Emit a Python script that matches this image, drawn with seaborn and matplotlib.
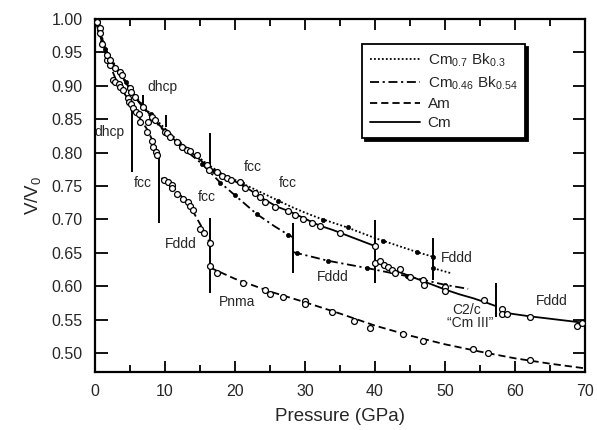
import matplotlib
matplotlib.use('Agg')
import matplotlib.pyplot as plt
import seaborn as sns
import pandas as pd
from matplotlib.lines import Line2D
from matplotlib.ticker import MultipleLocator

# ---------------- data ----------------
# Am : open circles + dashed curve
am_dhcp_p = [0.3, 0.7, 1.0, 1.7, 2.1, 2.6, 2.9, 3.4, 3.6, 4.0, 4.7, 4.9, 5.2]
am_dhcp_v = [0.995, 0.987, 0.962, 0.939, 0.931, 0.909, 0.905, 0.903, 0.898, 0.893, 0.881, 0.876, 0.872]
am_fcc_p = [5.5, 5.9, 6.3, 6.4, 7.6, 7.5, 8.1, 8.3, 8.7, 8.8]
am_fcc_v = [0.866, 0.861, 0.857, 0.845, 0.846, 0.831, 0.818, 0.809, 0.801, 0.796]
am_fddd_p = [9.8, 10.4, 11.0, 11.0, 11.7, 12.6, 13.3, 13.6, 14.0, 15.0, 15.6, 16.4]
am_fddd_v = [0.759, 0.756, 0.752, 0.747, 0.738, 0.731, 0.726, 0.720, 0.714, 0.686, 0.680, 0.665]
am_pnma_p = [16.4, 17.4, 21.1, 24.3, 25.0, 26.9, 30.0, 30.0, 33.9, 37.0, 39.3, 44.0, 46.9, 54.0, 56.2, 62.1]
am_pnma_v = [0.630, 0.620, 0.605, 0.595, 0.588, 0.584, 0.578, 0.574, 0.562, 0.548, 0.537, 0.528, 0.518, 0.506, 0.500, 0.489]

am_line_dhcp_p = [0, 1, 2, 3, 4, 5.3]
am_line_dhcp_v = [1.0, 0.962, 0.935, 0.909, 0.892, 0.870]
am_line_fcc_p = [5.3, 6.5, 7.5, 8.5, 9.1]
am_line_fcc_v = [0.868, 0.850, 0.834, 0.812, 0.795]
am_line_fddd_p = [9.5, 11.0, 12.5, 14.0, 15.5, 16.4]
am_line_fddd_v = [0.762, 0.749, 0.733, 0.712, 0.684, 0.665]
am_line_pnma_p = [16.4, 20, 25, 30, 35, 40, 45, 50, 55, 60, 65, 70]
am_line_pnma_v = [0.628, 0.611, 0.592, 0.576, 0.559, 0.541, 0.526, 0.513, 0.502, 0.492, 0.484, 0.477]

# Cm : open circles + solid curve
cm_a_p = [0.3, 0.7, 1.7, 2.1, 2.9, 3.6, 3.8, 5.0, 5.2, 5.7, 6.9, 8.1, 8.6, 10.0, 10.3, 10.7,
          11.7, 12.4, 13.1, 13.6, 14.6, 16.0, 16.3, 17.4, 18.1, 18.9, 19.5, 20.7, 21.4, 22.9,
          23.6, 24.3, 25.7, 27.6, 28.6, 29.7, 31.0, 32.1, 35.0, 40.0]
cm_a_v = [0.996, 0.979, 0.946, 0.939, 0.927, 0.921, 0.916, 0.897, 0.891, 0.883, 0.868, 0.853,
          0.849, 0.831, 0.829, 0.823, 0.816, 0.809, 0.804, 0.802, 0.796, 0.781, 0.774, 0.771,
          0.765, 0.762, 0.759, 0.756, 0.747, 0.740, 0.734, 0.726, 0.719, 0.712, 0.707, 0.700,
          0.695, 0.690, 0.680, 0.660]
cm_b_p = [40.0, 40.7, 41.3, 41.9, 42.4, 42.9, 43.6, 45.0, 46.9, 47.0, 50.0, 50.0, 55.6]
cm_b_v = [0.635, 0.637, 0.631, 0.629, 0.624, 0.620, 0.626, 0.614, 0.609, 0.602, 0.599, 0.593, 0.579]
cm_c_p = [58.1, 58.1, 58.9, 62.1, 68.9, 69.6]
cm_c_v = [0.566, 0.558, 0.558, 0.554, 0.540, 0.545]

cm_line_a_p = [0, 1, 2, 3, 4, 6, 8, 10, 12, 14, 16.4, 18, 20, 22, 24, 26, 28, 30, 32, 34, 36, 38, 40]
cm_line_a_v = [1.0, 0.966, 0.943, 0.926, 0.912, 0.880, 0.855, 0.832, 0.813, 0.798, 0.777, 0.766,
               0.757, 0.745, 0.731, 0.719, 0.711, 0.701, 0.691, 0.684, 0.676, 0.668, 0.660]
cm_line_b_p = [40, 42, 44, 46, 48, 50, 52, 54, 56, 57.3]
cm_line_b_v = [0.637, 0.627, 0.619, 0.611, 0.603, 0.595, 0.588, 0.582, 0.575, 0.570]
cm_line_c_p = [58, 62, 66, 70]
cm_line_c_v = [0.561, 0.555, 0.550, 0.545]

# Cm0.7Bk0.3 : filled dots + dotted curve
cb7_dot_p = [1.5, 4.5, 8, 12, 17, 21.0, 26.1, 32.6, 36.1, 41.1, 46.0, 48.3, 48.3]
cb7_dot_v = [0.955, 0.906, 0.857, 0.815, 0.773, 0.755, 0.728, 0.699, 0.689, 0.668, 0.651, 0.644, 0.627]
cb7_line_a_p = [0, 2, 4, 6, 8, 10, 12, 14, 16, 18, 20, 22, 24, 26, 28, 30, 32, 34, 36, 38, 40, 42, 44, 46, 48.3]
cb7_line_a_v = [1.0, 0.945, 0.913, 0.881, 0.857, 0.836, 0.816, 0.800, 0.783, 0.769, 0.759, 0.749,
                0.739, 0.729, 0.719, 0.710, 0.702, 0.695, 0.688, 0.680, 0.672, 0.665, 0.658, 0.651, 0.644]
cb7_line_b_p = [48.3, 51.0]
cb7_line_b_v = [0.627, 0.619]

# Cm0.46Bk0.54 : filled dots + dash-dot curve
cb46_dot_p = [12.4, 15.3, 17.9, 20.0, 23.1, 27.6, 28.9, 33.3, 38.9, 44.6, 50.0]
cb46_dot_v = [0.808, 0.783, 0.755, 0.736, 0.708, 0.677, 0.650, 0.638, 0.627, 0.615, 0.602]
cb46_line_a_p = [0, 2, 4, 6, 8, 10, 12.4, 15.3, 17.9, 20, 23.1, 25.6, 27.6, 28.3]
cb46_line_a_v = [1.0, 0.943, 0.911, 0.879, 0.853, 0.831, 0.808, 0.783, 0.755, 0.736, 0.708, 0.690, 0.677, 0.673]
cb46_line_b_p = [28.3, 33.3, 38.9, 44.6, 50.0, 53.3]
cb46_line_b_v = [0.651, 0.638, 0.627, 0.615, 0.602, 0.596]

# phase-transition markers (pressure, lower V, upper V)
trans_p = [5.3, 9.1, 6.9, 10.2, 16.4, 16.4, 28.3, 40.0, 48.3, 57.3]
trans_lo = [0.771, 0.695, 0.871, 0.838, 0.771, 0.590, 0.620, 0.605, 0.609, 0.554]
trans_hi = [0.867, 0.801, 0.886, 0.856, 0.829, 0.702, 0.695, 0.699, 0.672, 0.605]

# phase labels
lab_text = ['dhcp', 'dhcp', 'fcc', 'fcc', 'fcc', 'fcc', 'Fddd', 'Fddd', 'Pnma', 'Fddd',
            'Fddd', 'C2/c', '\u201cCm III\u201d']
lab_p = [2.1, 9.7, 6.9, 22.6, 27.6, 16.0, 12.3, 33.9, 20.3, 51.7, 65.3, 53.1, 53.6]
lab_v = [0.831, 0.898, 0.754, 0.778, 0.754, 0.734, 0.663, 0.614, 0.576, 0.642, 0.578, 0.564, 0.545]

legend_labels = [r'Cm$_{0.7}$ Bk$_{0.3}$', r'Cm$_{0.46}$ Bk$_{0.54}$', 'Am', 'Cm']

# ---------------- styling ----------------
sns.set_style('ticks')
plt.rcParams['font.family'] = ['Liberation Sans', 'DejaVu Sans']
plt.rcParams['mathtext.fontset'] = 'custom'
plt.rcParams['mathtext.rm'] = 'Liberation Sans'
plt.rcParams['mathtext.it'] = 'Liberation Sans'
plt.rcParams['mathtext.bf'] = 'Liberation Sans:bold'

fig = plt.figure(figsize=(5.97, 4.30), dpi=100)
ax = fig.add_axes([0.159, 0.1356, 0.821, 0.8204])

LW = 1.3
DOT = (0, (1, 1.2))
DASH = (0, (4, 2.2))
DASHDOT = (0, (5, 2, 1.2, 2))


def line(p, v, ls):
    sns.lineplot(x=p, y=v, ax=ax, color='black', linewidth=LW, linestyle=ls,
                 estimator=None, sort=False, legend=False, zorder=2)


line(am_line_dhcp_p, am_line_dhcp_v, DASH)
line(am_line_fcc_p, am_line_fcc_v, DASH)
line(am_line_fddd_p, am_line_fddd_v, DASH)
line(am_line_pnma_p, am_line_pnma_v, DASH)
line(cm_line_a_p, cm_line_a_v, '-')
line(cm_line_b_p, cm_line_b_v, '-')
line(cm_line_c_p, cm_line_c_v, '-')
line(cb7_line_a_p, cb7_line_a_v, DOT)
line(cb7_line_b_p, cb7_line_b_v, DOT)
line(cb46_line_a_p, cb46_line_a_v, DASHDOT)
line(cb46_line_b_p, cb46_line_b_v, DASHDOT)

ax.vlines(trans_p, trans_lo, trans_hi, color='black', linewidth=1.4, zorder=3)

for p, v in [(cb7_dot_p, cb7_dot_v), (cb46_dot_p, cb46_dot_v)]:
    sns.scatterplot(x=p, y=v, ax=ax, s=9, color='black', edgecolor='black',
                    linewidth=0.5, zorder=4, legend=False)

for p, v in [(am_dhcp_p, am_dhcp_v), (am_fcc_p, am_fcc_v), (am_fddd_p, am_fddd_v),
             (am_pnma_p, am_pnma_v), (cm_a_p, cm_a_v), (cm_b_p, cm_b_v), (cm_c_p, cm_c_v)]:
    sns.scatterplot(x=p, y=v, ax=ax, s=18, facecolor='white', edgecolor='black',
                    linewidth=0.9, zorder=5, legend=False)

for t, p, v in zip(lab_text, lab_p, lab_v):
    ax.text(p, v, t, ha='center', va='center', fontsize=10, zorder=6)

ax.set_xlim(0, 70)
ax.set_ylim(0.472, 1.0)
ax.xaxis.set_major_locator(MultipleLocator(10))
ax.xaxis.set_minor_locator(MultipleLocator(5))
ax.yaxis.set_major_locator(MultipleLocator(0.05))
ax.yaxis.set_major_formatter(matplotlib.ticker.FormatStrFormatter('%.2f'))
ax.tick_params(which='both', direction='in', top=True, right=True, color='black',
               width=1.3, labelsize=11.5, pad=9)
ax.tick_params(which='major', length=8)
ax.tick_params(which='minor', length=5)
ax.tick_params(axis='y', which='major', length=9)
for s in ax.spines.values():
    s.set_linewidth(1.6)
    s.set_color('black')

ax.set_xlabel('Pressure (GPa)', fontsize=13.5, labelpad=6)
ax.set_ylabel('V/V$_0$', fontsize=13.5, labelpad=6)

handles = [Line2D([], [], color='black', lw=LW, linestyle=DOT),
           Line2D([], [], color='black', lw=LW, linestyle=DASHDOT),
           Line2D([], [], color='black', lw=LW, linestyle=DASH),
           Line2D([], [], color='black', lw=LW, linestyle='-')]
leg = ax.legend(handles, legend_labels, loc='upper left', bbox_to_anchor=(0.545, 0.929),
                frameon=True, fancybox=False, fontsize=11, handlelength=3.3,
                labelspacing=0.35, borderpad=0.5, handletextpad=0.5, borderaxespad=0,
                shadow={'facecolor': 'black', 'edgecolor': 'black', 'alpha': 1, 'ox': 2, 'oy': -2})
leg.get_frame().set_edgecolor('black')
leg.get_frame().set_linewidth(1.3)
leg.get_frame().set_alpha(1)

fig.savefig('out.png', dpi=100)
